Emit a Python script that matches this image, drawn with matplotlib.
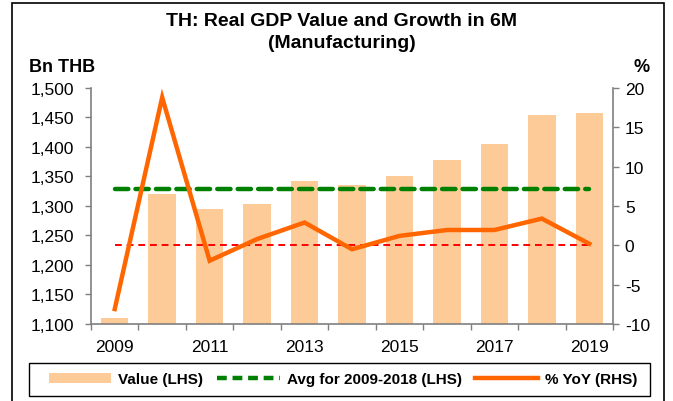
import matplotlib
matplotlib.use("Agg")
import matplotlib.pyplot as plt
from matplotlib.patches import Rectangle
from matplotlib.lines import Line2D
from matplotlib.patches import Patch
import numpy as np

plt.rcParams['font.family'] = ['Liberation Sans', 'DejaVu Sans']

years = ['2009', '2010', '2011', '2012', '2013', '2014', '2015', '2016', '2017', '2018', '2019']
value = [1110, 1320, 1295, 1303, 1343, 1336, 1351, 1378, 1405, 1454, 1458]
yoy = [-8.1, 18.8, -1.95, 0.8, 2.9, -0.5, 1.2, 1.95, 1.95, 3.4, 0.2]
avg_2009_2018 = 1329.5
left_ticks = [1100, 1150, 1200, 1250, 1300, 1350, 1400, 1450, 1500]
right_ticks = [-10, -5, 0, 5, 10, 15, 20]
xlabels = ['2009', '2011', '2013', '2015', '2017', '2019']

fig = plt.figure(figsize=(6.73, 4.02), dpi=100)
ax = fig.add_axes([91/673, 1-325/402, (613-91)/673, (325-89)/402])
ax2 = ax.twinx()

x = np.arange(len(years))
ax.bar(x, value, width=0.58, color='#FDCB98', zorder=1)
ax.plot([x[0], x[-1]], [avg_2009_2018, avg_2009_2018], color='#008000', lw=3.2,
        dashes=(3, 1.6), zorder=3, dash_capstyle='round')
ax2.plot([x[0], x[-1]], [0, 0], color='#FF0000', lw=1.4, dashes=(3.5, 2.5), zorder=2)
ax2.plot(x, yoy, color='#FF6600', lw=3.2, zorder=4, solid_joinstyle='miter')

ax.set_xlim(-0.5, len(years) - 0.5)
ax.set_ylim(1100, 1500)
ax2.set_ylim(-10, 20)
ax.set_yticks(left_ticks)
ax.set_yticklabels([f'{v:,}' for v in left_ticks])
ax2.set_yticks(right_ticks)
ax2.set_yticklabels([str(v) for v in right_ticks])

ax.set_xticks(np.arange(-0.5, len(years), 1.0))
ax.set_xticklabels([])
ax.set_xticks([years.index(y) for y in xlabels], minor=True)
ax.set_xticklabels(xlabels, minor=True)
ax.tick_params(axis='x', which='minor', length=0, pad=10.5, labelsize=12.5)
ax.tick_params(axis='x', which='major', length=4, color='#7f7f7f', width=1)
ax.tick_params(axis='y', length=4.5, color='#7f7f7f', width=1, labelsize=12.5, pad=7.5)
ax2.tick_params(axis='y', length=4.5, color='#7f7f7f', width=1, labelsize=12.5, pad=4)

for a in (ax, ax2):
    a.spines['top'].set_visible(False)
    for s in ('left', 'right', 'bottom'):
        a.spines[s].set_color('#7f7f7f')
        a.spines[s].set_linewidth(1.2)
ax2.spines['left'].set_visible(False)
ax2.spines['bottom'].set_visible(False)
ax.spines['right'].set_visible(False)
ax.set_zorder(ax2.get_zorder() - 1)
ax2.patch.set_visible(False)

fig.text(342/673, 1-22/402, 'TH: Real GDP Value and Growth in 6M',
         ha='center', va='center', fontsize=14, fontweight='bold')
fig.text(342/673, 1-44/402, '(Manufacturing)',
         ha='center', va='center', fontsize=14, fontweight='bold')
fig.text(29/673, 1-68/402, 'Bn THB', ha='left', va='center', fontsize=13, fontweight='bold')
fig.text(642/673, 1-68/402, '%', ha='center', va='center', fontsize=13, fontweight='bold')

# outer frame
fig.patches.append(Rectangle((12/673, -0.02), (664-12)/673, 1.02-4/402, transform=fig.transFigure,
                             fill=False, edgecolor='black', lw=1.2))
# legend frame
fig.patches.append(Rectangle((29/673, 1-397/402), (650-29)/673, 33/402, transform=fig.transFigure,
                             fill=False, edgecolor='black', lw=1.0))

handles = [Patch(facecolor='#FDCB98', edgecolor='none'),
           Line2D([], [], color='#008000', lw=3.2, dashes=(2.2, 1.3)),
           Line2D([], [], color='#FF6600', lw=3.2)]
labels = ['Value (LHS)', 'Avg for 2009-2018 (LHS)', '% YoY (RHS)']
leg = fig.legend(handles, labels, loc='center', bbox_to_anchor=(343/673, 1-380.5/402),
                 ncol=3, frameon=False,
                 prop={'weight': 'bold', 'size': 11}, handlelength=4.1, columnspacing=0.9,
                 handletextpad=0.45, borderpad=0.5, handleheight=0.6)

fig.savefig('out.png', dpi=100)
